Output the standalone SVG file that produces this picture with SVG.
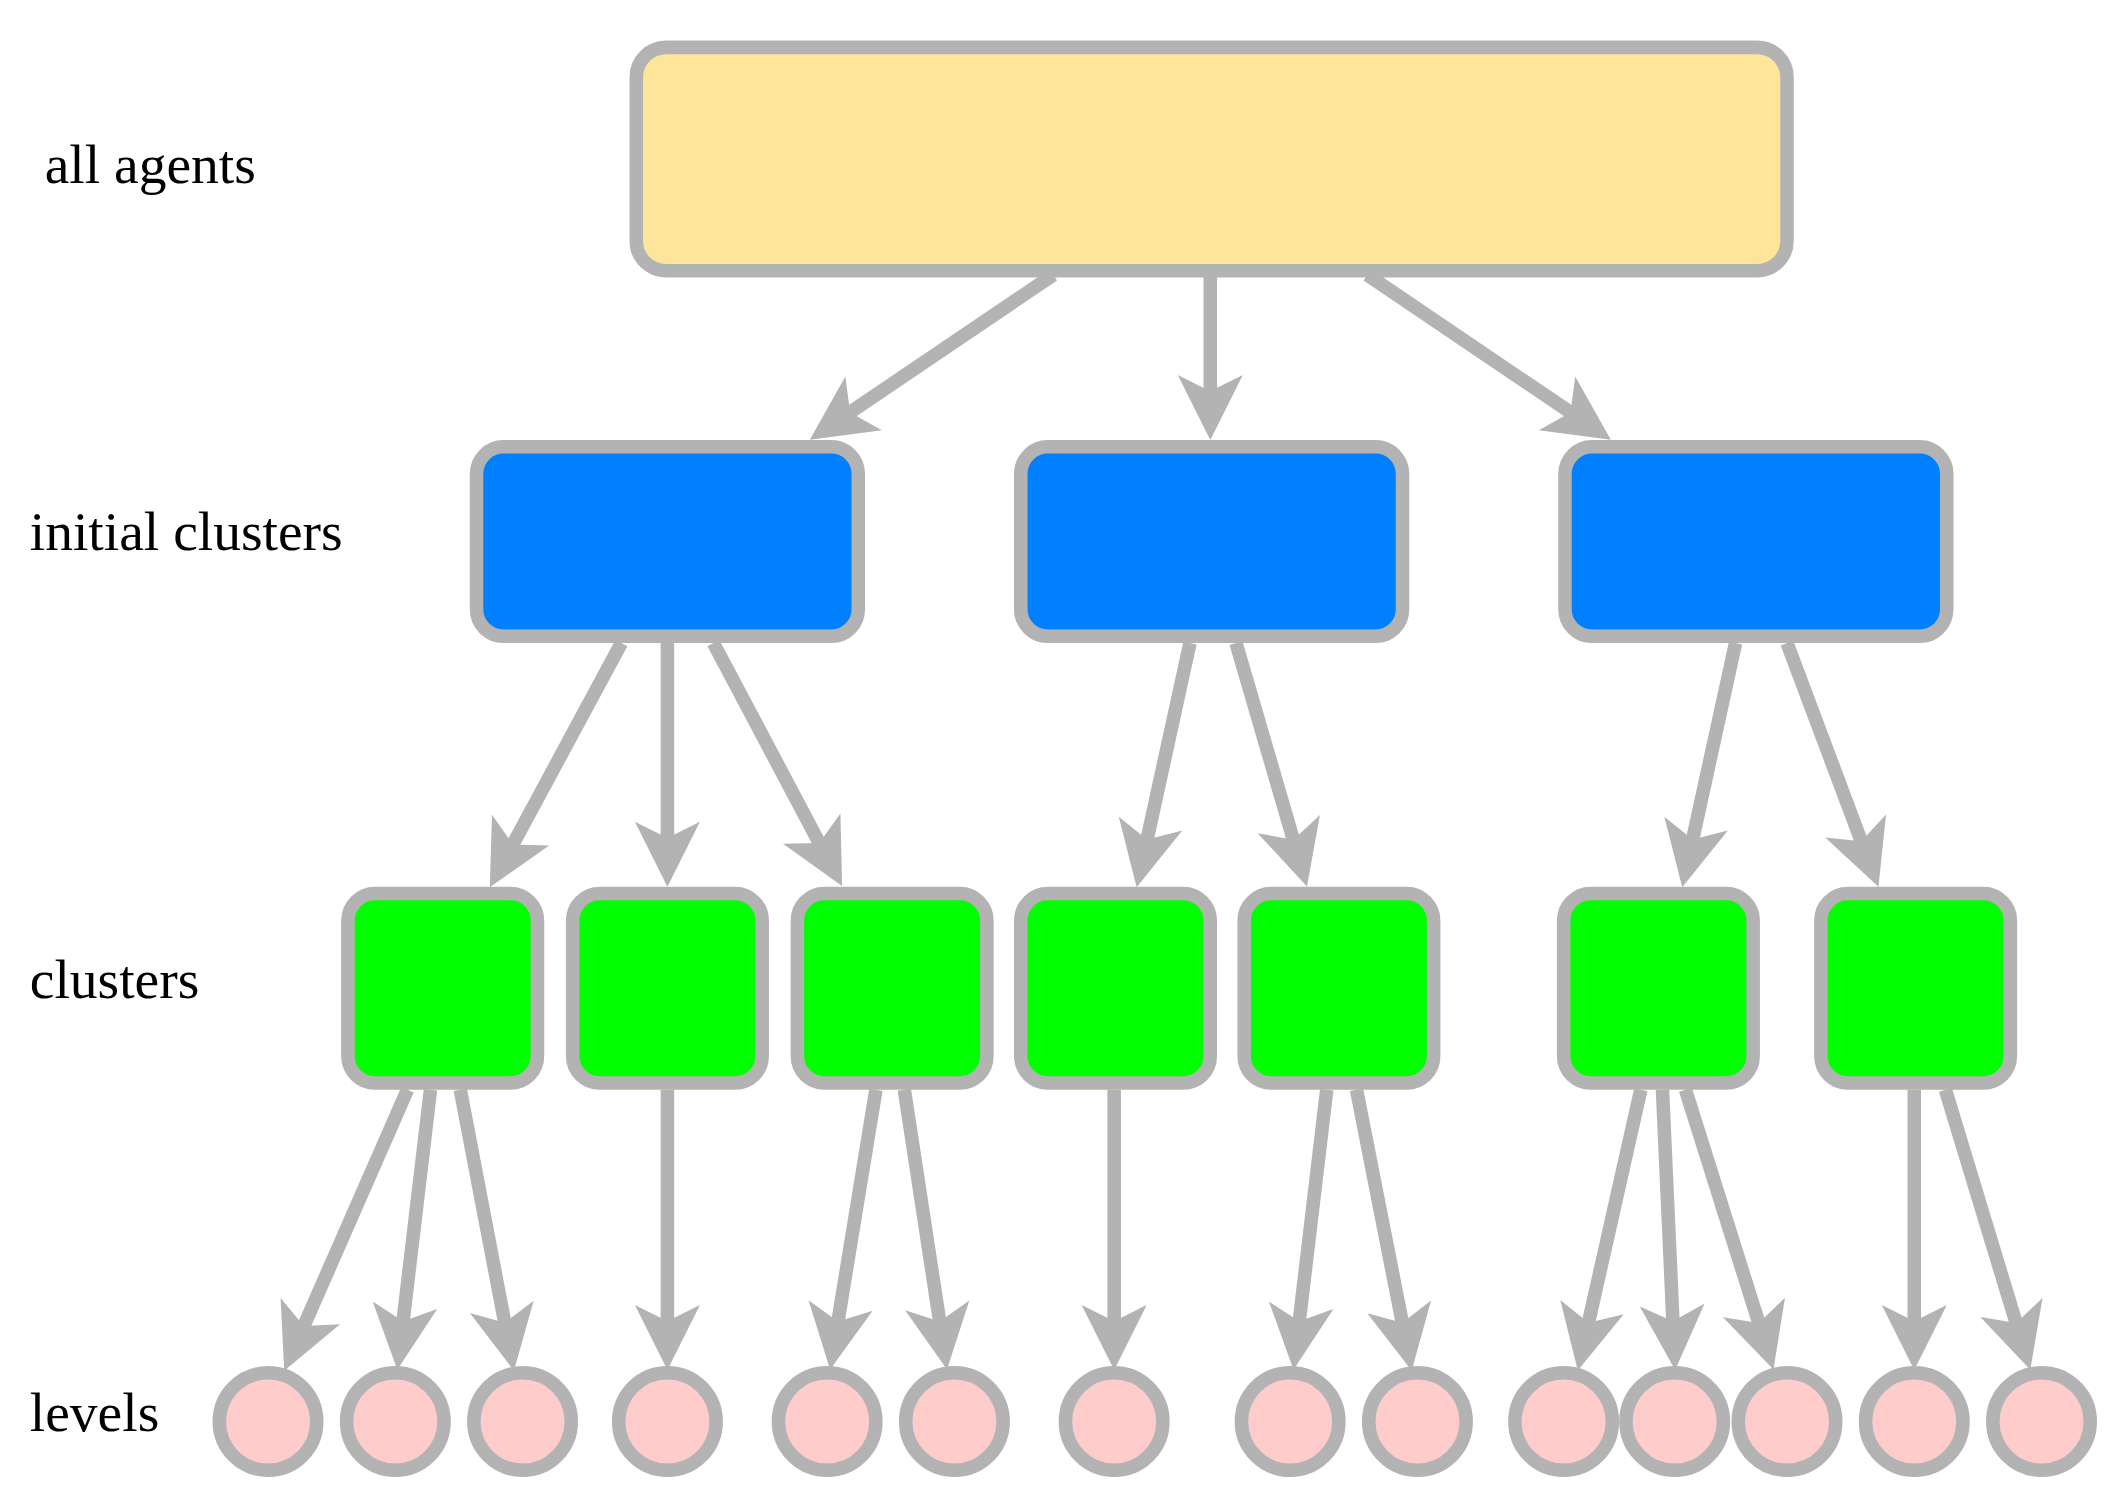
<svg xmlns="http://www.w3.org/2000/svg" width="2112" height="1506" viewBox="0 0 2112 1506">
<style>
.n{stroke:#b3b3b3;stroke-width:10}
.t{font-family:"Liberation Serif",serif;font-size:41px;fill:#000}
.c line{stroke:#b3b3b3;stroke-width:10}
</style>
<defs>
<marker id="a" markerUnits="userSpaceOnUse" orient="auto" refX="0" refY="0" overflow="visible">
<path d="M30,0 L-18,-24 L-6,0 L-18,24 Z" fill="#b3b3b3"/>
</marker>
</defs>
<rect width="2112" height="1506" fill="#fff"/>
<g transform="scale(1.3538)">
<text class="t" x="33" y="135">all agents</text>
<text class="t" x="22" y="406">initial clusters</text>
<text class="t" x="22" y="737">clusters</text>
<text class="t" x="22" y="1057">levels</text>
<g id="top"><rect class="n" x="470" y="35" width="850" height="165" rx="22" fill="#ffe599"/></g>
<g id="b1"><rect class="n" x="352" y="330" width="282" height="140" rx="20" fill="#0080ff"/></g>
<g id="b2"><rect class="n" x="754" y="330" width="282" height="140" rx="20" fill="#0080ff"/></g>
<g id="b3"><rect class="n" x="1156" y="330" width="282" height="140" rx="20" fill="#0080ff"/></g>
<g id="g1"><rect class="n" x="257" y="660" width="140" height="140" rx="20" fill="#00ff00"/></g>
<g id="g2"><rect class="n" x="423" y="660" width="140" height="140" rx="20" fill="#00ff00"/></g>
<g id="g3"><rect class="n" x="589" y="660" width="140" height="140" rx="20" fill="#00ff00"/></g>
<g id="g4"><rect class="n" x="754" y="660" width="140" height="140" rx="20" fill="#00ff00"/></g>
<g id="g5"><rect class="n" x="919" y="660" width="140" height="140" rx="20" fill="#00ff00"/></g>
<g id="g6"><rect class="n" x="1155" y="660" width="140" height="140" rx="20" fill="#00ff00"/></g>
<g id="g7"><rect class="n" x="1345" y="660" width="140" height="140" rx="20" fill="#00ff00"/></g>
<g id="levels" fill="#ffcccc">
<circle class="n" cx="198" cy="1050" r="36"/><circle class="n" cx="292" cy="1050" r="36"/>
<circle class="n" cx="386" cy="1050" r="36"/><circle class="n" cx="493" cy="1050" r="36"/>
<circle class="n" cx="611" cy="1050" r="36"/><circle class="n" cx="705" cy="1050" r="36"/>
<circle class="n" cx="823" cy="1050" r="36"/><circle class="n" cx="953" cy="1050" r="36"/>
<circle class="n" cx="1047" cy="1050" r="36"/><circle class="n" cx="1155" cy="1050" r="36"/>
<circle class="n" cx="1237" cy="1050" r="36"/><circle class="n" cx="1320" cy="1050" r="36"/>
<circle class="n" cx="1414" cy="1050" r="36"/><circle class="n" cx="1508" cy="1050" r="36"/>
</g>
<g class="c" marker-end="url(#a)">
<line x1="778" y1="203" x2="623" y2="308" marker-end="url(#a)"/>
<line x1="894" y1="203" x2="894" y2="295" marker-end="url(#a)"/>
<line x1="1010" y1="203" x2="1165" y2="308" marker-end="url(#a)"/>
<line x1="459" y1="475" x2="376" y2="629" marker-end="url(#a)"/>
<line x1="493" y1="475" x2="493" y2="625" marker-end="url(#a)"/>
<line x1="527" y1="475" x2="608" y2="628" marker-end="url(#a)"/>
<line x1="879" y1="475" x2="846" y2="626" marker-end="url(#a)"/>
<line x1="913" y1="475" x2="957" y2="626" marker-end="url(#a)"/>
<line x1="1282" y1="475" x2="1249" y2="626" marker-end="url(#a)"/>
<line x1="1320" y1="475" x2="1377" y2="627" marker-end="url(#a)"/>
<line x1="301" y1="805" x2="222" y2="985" marker-end="url(#a)"/>
<line x1="318" y1="805" x2="297" y2="982" marker-end="url(#a)"/>
<line x1="340" y1="805" x2="374" y2="983" marker-end="url(#a)"/>
<line x1="493" y1="805" x2="493" y2="982" marker-end="url(#a)"/>
<line x1="647" y1="805" x2="618" y2="982" marker-end="url(#a)"/>
<line x1="668" y1="805" x2="695" y2="982" marker-end="url(#a)"/>
<line x1="823" y1="805" x2="823" y2="982" marker-end="url(#a)"/>
<line x1="980" y1="805" x2="959" y2="982" marker-end="url(#a)"/>
<line x1="1002" y1="805" x2="1037" y2="983" marker-end="url(#a)"/>
<line x1="1212" y1="805" x2="1172" y2="983" marker-end="url(#a)"/>
<line x1="1228" y1="805" x2="1236" y2="982" marker-end="url(#a)"/>
<line x1="1245" y1="805" x2="1301" y2="983" marker-end="url(#a)"/>
<line x1="1414" y1="805" x2="1414" y2="982" marker-end="url(#a)"/>
<line x1="1437" y1="805" x2="1491" y2="983" marker-end="url(#a)"/>
</g>
</g>
</svg>
